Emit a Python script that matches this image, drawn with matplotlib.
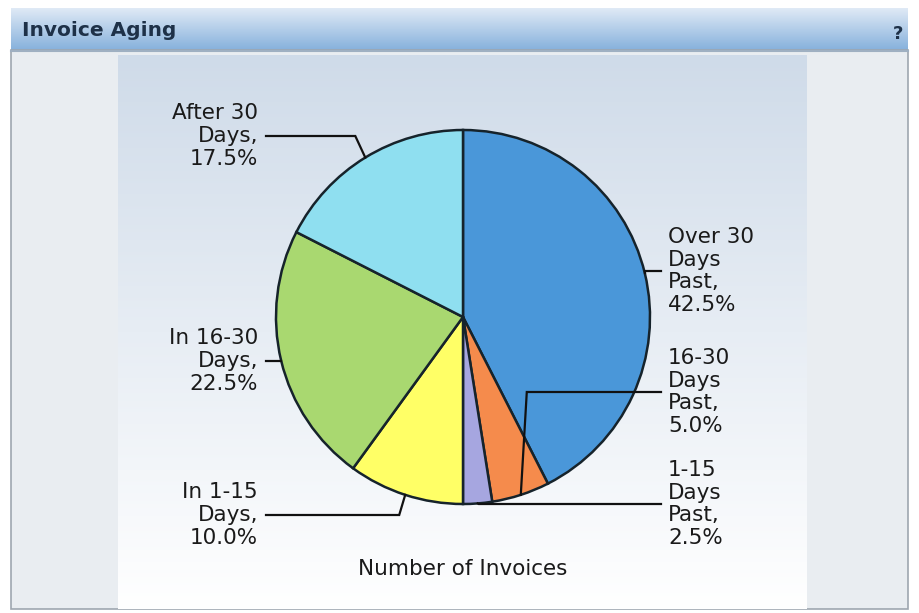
import matplotlib
matplotlib.use("Agg")
import matplotlib.pyplot as plt
import numpy as np
from matplotlib.colors import LinearSegmentedColormap
from matplotlib.patches import Rectangle

# ---- data ----
categories = ["Over 30\nDays\nPast", "16-30\nDays\nPast", "1-15\nDays\nPast",
              "In 1-15\nDays", "In 16-30\nDays", "After 30\nDays"]
shares = [42.5, 5.0, 2.5, 10.0, 22.5, 17.5]
slice_colors = ["#4a97d9", "#f58b4c", "#a6a6e0", "#ffff66", "#a9d870", "#8fdff0"]
panel_title = "Invoice Aging"
axis_label = "Number of Invoices"

# ---- layout (pixels) ----
W, H = 919, 613
cx, cy, R = 463, 317, 187
label_pos = [(668, 271), (668, 392), (668, 504), (258, 515), (258, 361), (258, 136)]
elbow_dx = [0, 6, 1, -6, 0, -10]
text_color = "#1a1a1a"
FS = 15.5

fig = plt.figure(figsize=(W / 100, H / 100), dpi=100)
fig.patch.set_facecolor("white")

bg = fig.add_axes([0, 0, 1, 1])
bg.axis("off")


def vgrad(ax, x0, x1, y0, y1, c0, c1, z=0):
    cmap = LinearSegmentedColormap.from_list("g", [c0, c1])
    grad = np.linspace(0, 1, 256).reshape(-1, 1)
    ax.imshow(grad, cmap=cmap, extent=(x0, x1, y1, y0), origin="upper",
              aspect="auto", zorder=z, interpolation="bilinear")


# header
vgrad(bg, 11, 908, 8, 50, "#e0eaf6", "#86b1dc", z=1)
# body
bg.add_patch(Rectangle((11, 50), 897, 559, facecolor="#e9edf1",
                       edgecolor="#9ea7b0", linewidth=1.2, zorder=2))
bg.plot([11, 908], [50.5, 50.5], color="#9fb0c2", lw=1.5, zorder=3)
# chart area
vgrad(bg, 118, 807, 55, 609, "#cfdbe9", "#ffffff", z=3)
bg.set_xlim(0, W)
bg.set_ylim(H, 0)

bg.text(22, 31, panel_title, fontsize=14.5, fontweight="bold", color="#1e3148",
        va="center", ha="left", zorder=5)
bg.text(898, 34, "?", fontsize=13, fontweight="bold", color="#1e3148",
        va="center", ha="center", zorder=5)

# pie
pie_ax = fig.add_axes([(cx - R) / W, (H - cy - R) / H, 2 * R / W, 2 * R / H])
pie_ax.pie(shares, colors=slice_colors, startangle=90, counterclock=False,
           wedgeprops=dict(edgecolor="#16232b", linewidth=1.8))
pie_ax.set_xlim(-1, 1)
pie_ax.set_ylim(-1, 1)
pie_ax.axis("off")

# overlay for labels and leader lines
ov = fig.add_axes([0, 0, 1, 1])
ov.set_xlim(0, W)
ov.set_ylim(H, 0)
ov.axis("off")
ov.patch.set_alpha(0)

cum = 0.0
for cat, s, (lx, ly), dx in zip(categories, shares, label_pos, elbow_dx):
    mid = np.deg2rad(90 - 360 * (cum + s / 2) / 100)
    cum += s
    axp = cx + R * np.cos(mid)
    ayp = cy - R * np.sin(mid)
    right = lx > cx
    end_x = lx - 7 if right else lx + 8
    ex = axp + dx
    ov.plot([axp, ex, end_x], [ayp, ly, ly], color="#111111", lw=1.6,
            solid_joinstyle="miter")
    ov.text(lx, ly, f"{cat},\n{s:.1f}%", fontsize=FS, color=text_color,
            ha="left" if right else "right", va="center",
            multialignment="left" if right else "right", linespacing=1.16)

ov.text(cx, 569, axis_label, fontsize=FS, color=text_color, ha="center", va="center")

fig.savefig("out.png", dpi=100)
